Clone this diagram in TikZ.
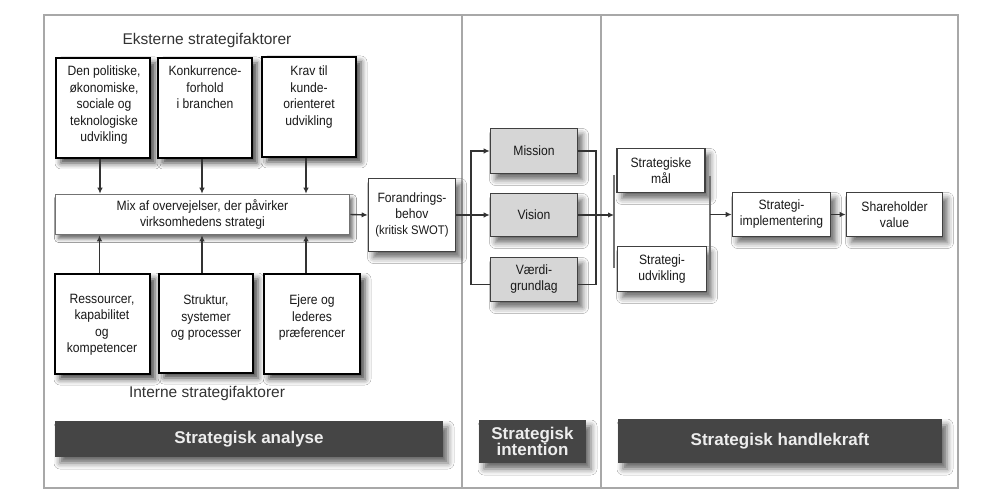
\documentclass[tikz,border=0pt]{standalone}
\usepackage{fontspec}
\setmainfont{Liberation Sans}
\newfontfamily\cond[FakeStretch=0.9]{Liberation Sans}
\usetikzlibrary{shadows.blur,arrows.meta}
\definecolor{barcol}{HTML}{454545}
\definecolor{framecol}{HTML}{A8A8A8}
\definecolor{graybox}{HTML}{D6D6D6}
\begin{document}
\begin{tikzpicture}[x=1pt,y=-1pt,
  shad/.style={blur shadow={shadow xshift=5pt, shadow yshift=-6pt, shadow blur radius=6pt, shadow opacity=60}},
  bigshad/.style={blur shadow={shadow xshift=5pt, shadow yshift=-5pt, shadow blur radius=6pt, shadow opacity=75}},
  lightshad/.style={blur shadow={shadow xshift=3pt, shadow yshift=-4pt, shadow blur radius=4pt, shadow opacity=35}},
  boxtext/.style={font=\cond\fontsize{13.5}{16.4}\selectfont, text=black!90, align=center, inner sep=0pt},
  factor/.style={draw=black, line width=2.6pt, fill=white, inner sep=0pt, bigshad},
  thinbox/.style={draw=black!75, line width=1.6pt, fill=white, inner sep=0pt, align=center,
     font=\cond\fontsize{13.5}{16}\selectfont, text=black!90, shad},
  intbox/.style={thinbox, fill=graybox},
  bar/.style={fill=barcol, inner sep=0pt, align=center, text=white!93!black,
     font=\bfseries\fontsize{17}{17}\selectfont, shad},
  heading/.style={font=\fontsize{15.5}{18}\selectfont, text=black!80, inner sep=0pt},
  conn/.style={draw=black!80, line width=1.4pt},
  arr/.style={conn, -{Latex[length=6pt,width=5.5pt]}},
  bracket/.style={draw=black!55, line width=1.8pt}
]
\useasboundingbox (0,0) rectangle (1004,502);
\fill[white] (0,0) rectangle (1004,502);

% frame and dividers
\draw[framecol, line width=1.6pt] (44,15) rectangle (958,488);
\draw[framecol, line width=1.3pt] (462,15) -- (462,488);
\draw[framecol, line width=1.3pt] (601,15) -- (601,488);

% headings
\node[heading] (hext) at (207,40) {Eksterne strategifaktorer};
\node[heading] (hint) at (207,393) {Interne strategifaktorer};

% external factor boxes
\node[factor, minimum width=94pt, minimum height=100pt] (e1) at (103,108) {};
\node[factor, minimum width=94pt, minimum height=100pt] (e2) at (205,108) {};
\node[factor, minimum width=94pt, minimum height=100pt] (e3) at (309,107) {};
\node[boxtext, anchor=north] (e1t) at (104,66) {Den politiske,\\økonomiske,\\sociale og\\teknologiske\\udvikling};
\node[boxtext, anchor=north] (e2t) at (205,66) {Konkurrence-\\forhold\\i branchen};
\node[boxtext, anchor=north] (e3t) at (309,66) {Krav til\\kunde-\\orienteret\\udvikling};

% mix box
\node[thinbox, draw=black!55, lightshad, minimum width=294pt, minimum height=40pt] (m) at (202.5,214.5)
  {Mix af overvejelser, der påvirker\\virksomhedens strategi};

% internal factor boxes
\node[factor, minimum width=95pt, minimum height=100pt] (i1) at (102.5,324) {};
\node[factor, minimum width=94pt, minimum height=99pt] (i2) at (206,323.5) {};
\node[factor, minimum width=96pt, minimum height=100pt] (i3) at (312,324) {};
\node[boxtext, anchor=north] (i1t) at (102,294) {Ressourcer,\\kapabilitet\\og\\kompetencer};
\node[boxtext, anchor=north] (i2t) at (206,295) {Struktur,\\systemer\\og processer};
\node[boxtext, anchor=north] (i3t) at (312,295) {Ejere og\\lederes\\præferencer};

% arrows to mix
\draw[arr] ([xshift=-3pt]e1.south) -- ([xshift=-3pt]e1.south |- m.north);
\draw[arr] ([xshift=-3pt]e2.south) -- ([xshift=-3pt]e2.south |- m.north);
\draw[arr] ([xshift=-3pt]e3.south) -- ([xshift=-3pt]e3.south |- m.north);
\draw[arr] ([xshift=-3pt]i1.north) -- ([xshift=-3pt]i1.north |- m.south);
\draw[arr] ([xshift=-4pt]i2.north) -- ([xshift=-4pt]i2.north |- m.south);
\draw[arr] ([xshift=-6pt]i3.north) -- ([xshift=-6pt]i3.north |- m.south);

% forandringsbehov
\node[thinbox, minimum width=87pt, minimum height=73pt] (f) at (412,215)
  {Forandrings-\\behov\\{\fontsize{12.5}{16}\selectfont(kritisk SWOT)}};
\draw[arr] (m.east) -- (f.west);

% intention boxes
\node[intbox, minimum width=87pt, minimum height=45pt] (mis) at (534,151) {Mission};
\node[intbox, minimum width=87pt, minimum height=43pt] (vis) at (534,215) {Vision};
\node[intbox, minimum width=87pt, minimum height=44pt] (val) at (534,279.5) {Værdi-\\grundlag};

\coordinate (jL) at (471,215);
\coordinate (jR) at (596,215);
\draw[arr] (f.east) -- (vis.west);
\draw[arr] (jL) |- (mis.west);
\draw[conn] (jL) |- ([yshift=-5pt]val.west);
\draw[conn] (mis.east) -| (jR);
\draw[conn] ([yshift=-5pt]val.east) -| (jR);

% handlekraft boxes
\node[thinbox, minimum width=88pt, minimum height=44pt] (sm) at (661,170.5) {Strategiske\\mål};
\node[thinbox, minimum width=89pt, minimum height=45pt] (su) at (662,269) {Strategi-\\udvikling};
\coordinate (blt) at (614,175);
\coordinate (blb) at (614,268);
\coordinate (bl) at (614,215);
\coordinate (brt) at (710,176);
\coordinate (brb) at (710,270);
\coordinate (br) at (710,0);
\draw[bracket] (blt) -- (blb);
\draw[bracket] (brt) -- (brb);
\draw[arr] (vis.east) -- (bl);

\node[thinbox, minimum width=98pt, minimum height=44pt] (imp) at (781.5,214.5) {Strategi-\\implementering};
\node[thinbox, minimum width=96pt, minimum height=44pt] (sh) at (894.5,214.5) {Shareholder\\value};
\draw[arr] (imp.west -| br) -- (imp.west);
\draw[arr] (imp.east) -- (sh.west);

% bars
\node[bar, minimum width=388pt, minimum height=36pt] (ba) at (249,439) {Strategisk analyse};
\node[bar, minimum width=107pt, minimum height=43pt, font=\bfseries\fontsize{17}{16.5}\selectfont] (bi) at (532.5,441.5) {Strategisk\\intention};
\node[bar, minimum width=324pt, minimum height=44pt] (bh) at (780,441) {Strategisk handlekraft};
\end{tikzpicture}
\end{document}
